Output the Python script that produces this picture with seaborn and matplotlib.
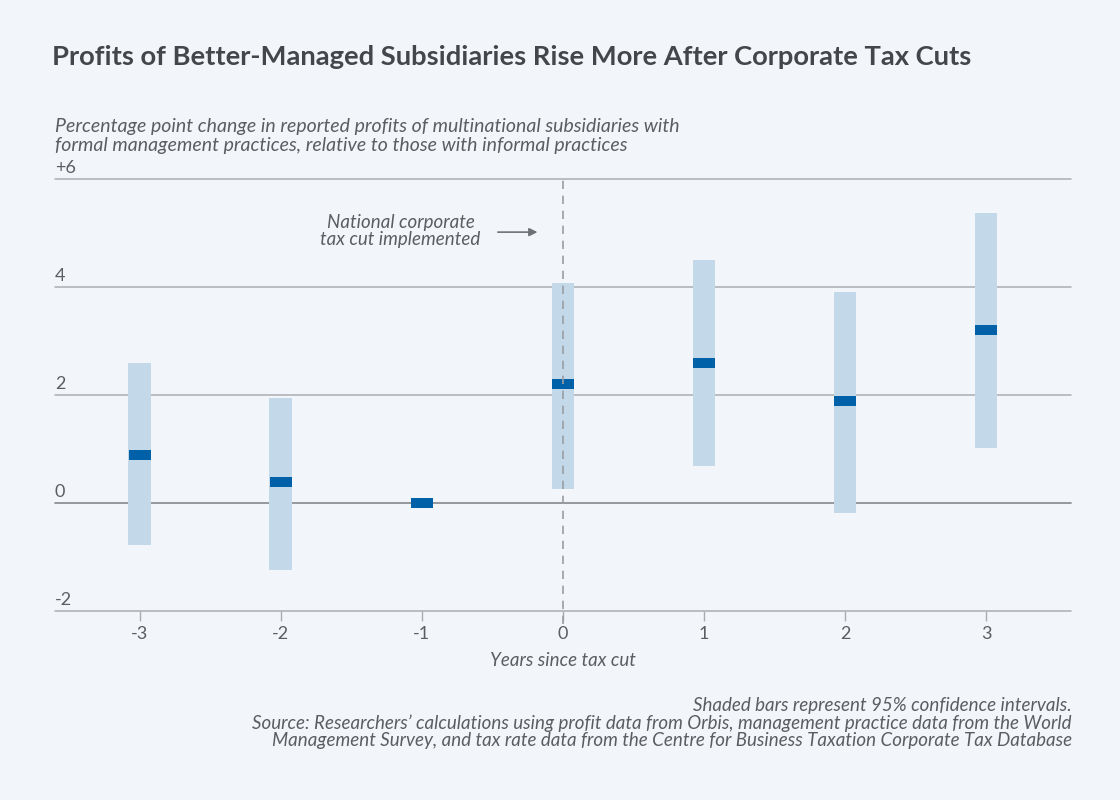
import matplotlib
matplotlib.use("Agg")
import matplotlib.pyplot as plt
import matplotlib.transforms as mtransforms
import numpy as np
import pandas as pd
import seaborn as sns

# values
years = [-3, -2, -1, 0, 1, 2, 3]
estimate = [0.89, 0.40, 0.0, 2.20, 2.59, 1.90, 3.20]
ci_low = [-0.78, -1.24, np.nan, 0.26, 0.69, -0.19, 1.02]
ci_high = [2.59, 1.94, np.nan, 4.07, 4.50, 3.91, 5.37]
y_ticks = [-2, 0, 2, 4, 6]
y_tick_labels = ["-2", "0", "2", "4", "+6"]

df = pd.DataFrame({"year": years, "est": estimate, "lo": ci_low, "hi": ci_high})

bg = "#f2f6fa"
text_col = "#5a5e63"
grid_col = "#a9adb1"

sns.set_theme(style="white")
plt.rcParams["font.family"] = ["Lato", "DejaVu Sans"]

fig = plt.figure(figsize=(11.2, 8), dpi=100, facecolor=bg)
ax = fig.add_axes([0.049, 0.236, 0.907, 0.54])
ax.set_facecolor(bg)

# confidence interval bars
ax.bar(df["year"], df["hi"] - df["lo"], bottom=df["lo"], width=0.16,
       color="#c3d9ea", linewidth=0, zorder=2)

# point estimates as short flat blocks
block = [(-1, -0.41), (1, -0.41), (1, 0.41), (-1, 0.41), (-1, -0.41)]
sns.scatterplot(data=df, x="year", y="est", marker=block, s=250,
                color="#0061a8", linewidth=0, zorder=3, ax=ax)

ax.set_xlim(-3.6, 3.6)
ax.set_ylim(-2, 6)

# horizontal grid lines
for t in y_ticks:
    ax.axhline(t, color="#8e9296" if t == 0 else grid_col,
               lw=1.3 if t == 0 else 1.1, zorder=1, clip_on=False)

# y labels sit above the lines at the left edge
trans = mtransforms.blended_transform_factory(ax.transAxes, ax.transData)
for t, lab in zip(y_ticks, y_tick_labels):
    ax.text(0.0, t + 0.06, lab, transform=trans, ha="left", va="bottom",
            fontsize=13, color=text_col)

# dashed line at the tax cut
ax.axvline(0, ymin=-0.03, ymax=1.005, color="#9a9ea2", lw=1.2,
           ls=(0, (5, 4)), clip_on=False, zorder=4)

ax.set_yticks([])
ax.set_xticks(years)
ax.set_xticklabels([str(y) for y in years], fontsize=13, color=text_col)
ax.tick_params(axis="x", length=7, width=1, color=grid_col, pad=4, bottom=True)
for s in ax.spines.values():
    s.set_visible(False)
ax.set_xlabel("Years since tax cut", fontsize=13.5, style="italic",
              color=text_col, labelpad=7)
ax.set_ylabel("")

# annotation
ax.annotate("", xy=(-0.16, 5.02), xytext=(-0.48, 5.02),
            arrowprops=dict(arrowstyle="-|>", color="#6e7276", lw=1.2,
                            mutation_scale=12))
ax.text(-1.15, 5.04, "National corporate\ntax cut implemented", ha="center",
        va="center", fontsize=13.5, style="italic", color=text_col,
        linespacing=1.05)

# titles and notes
fig.text(0.046, 0.929, "Profits of Better-Managed Subsidiaries Rise More After Corporate Tax Cuts",
         fontsize=19.7, fontweight="bold", color="#43474c", va="center")
fig.text(0.049, 0.830,
         "Percentage point change in reported profits of multinational subsidiaries with\n"
         "formal management practices, relative to those with informal practices",
         fontsize=14, style="italic", color=text_col, va="center", linespacing=1.1)
fig.text(0.957, 0.096,
         "Shaded bars represent 95% confidence intervals.\n"
         "Source: Researchers\u2019 calculations using profit data from Orbis, management practice data from the World\n"
         "Management Survey, and tax rate data from the Centre for Business Taxation Corporate Tax Database",
         fontsize=13.5, style="italic", color=text_col, ha="right", va="center",
         linespacing=1.02)

fig.savefig("out.png", dpi=100, facecolor=bg)
